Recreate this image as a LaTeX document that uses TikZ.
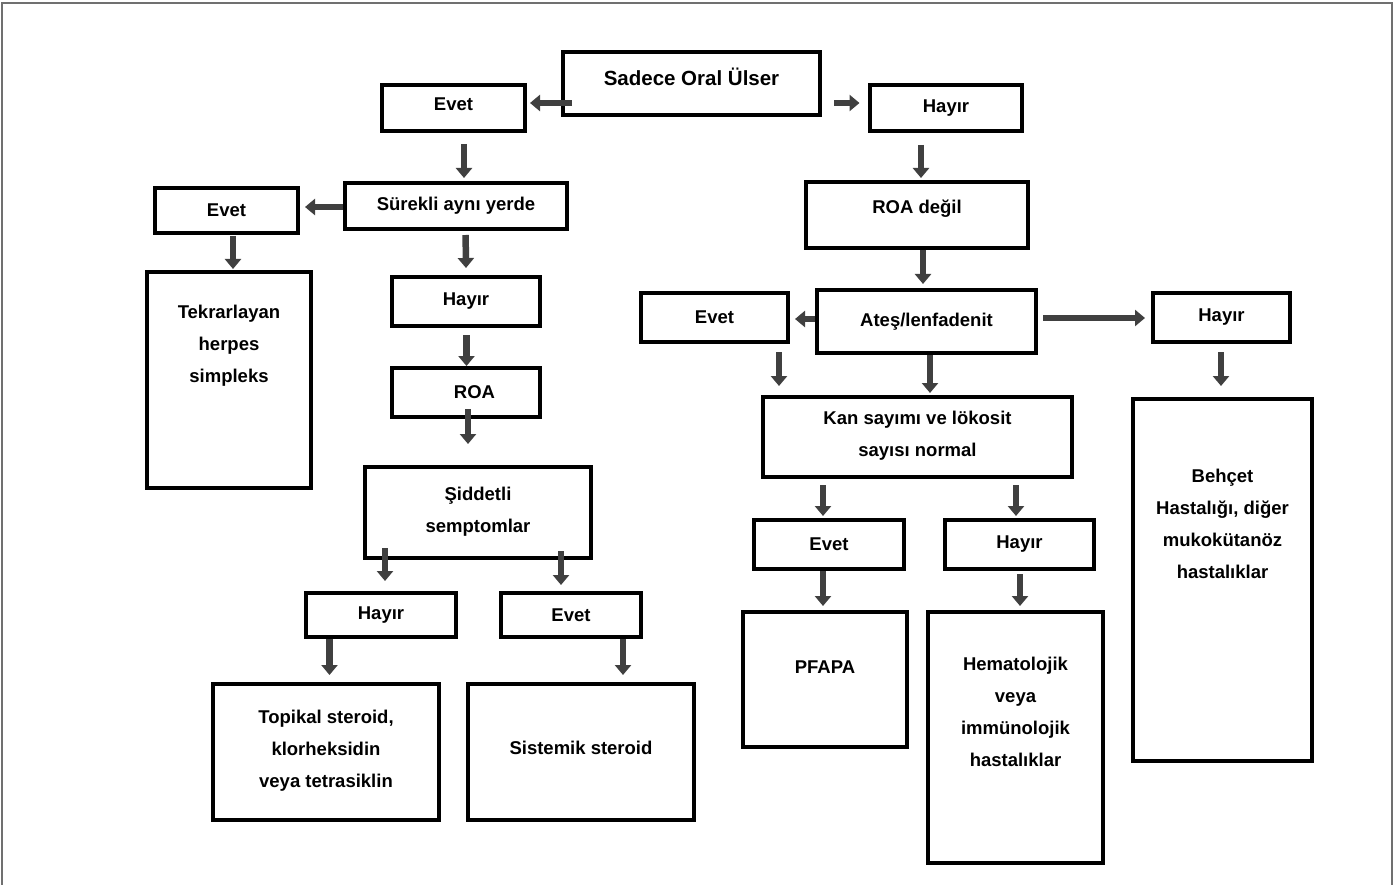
\documentclass[tikz,border=0pt]{standalone}
\usepackage{fontspec}
\setmainfont{Liberation Sans}
\usetikzlibrary{arrows.meta}
\definecolor{arrowgray}{HTML}{404040}
\definecolor{framegray}{HTML}{707070}

\begin{document}
\begin{tikzpicture}[x=1pt,y=-1pt]

		\tikzset{box/.style = {draw, line width=4pt, rectangle, align=center, inner sep=0pt,
				font=\fontsize{18.5}{32}\bfseries\selectfont}}
		\tikzset{sz/.style 2 args = {minimum width=#1pt, minimum height=#2pt}}
		\tikzset{arr/.style = {-{Triangle[width=16pt,length=10pt]}, line width=6.5pt, draw=arrowgray}}

		\useasboundingbox (0,0) rectangle (1394,885);
		\draw[framegray, line width=1.5pt] (2,885) -- (2,3) -- (1392,3) -- (1392,885);

		% boxes, left branch
		\node[box, sz={257}{63}, font=\fontsize{20.5}{32}\bfseries\selectfont] (oral) at (691.5,83.5) {Sadece Oral Ülser\\[-19pt]};
		\node[box, sz={143}{46}] (evetA) at (453.5,108) {Evet\\[-24pt]};
		\node[box, sz={222}{46}] (surekli) at (456,206) {Sürekli aynı yerde};
		\node[box, sz={143}{45}] (evetB) at (226.5,210.5) {Evet};
		\node[box, sz={164}{216}] (herpes) at (229,380) {Tekrarlayan\\herpes\\simpleks\\[41pt]};
		\node[box, sz={148}{49}] (hayirB) at (466,301.5) {Hayır};
		\node[box, sz={148}{49}] (roa) at (466,392.5) {\hspace*{17pt}ROA};
		\node[box, sz={226}{91}] (siddet) at (478,512.5) {Şiddetli\\semptomlar\\[-26pt]};
		\node[box, sz={150}{44}] (hayirC) at (381,615) {Hayır};
		\node[box, sz={140}{44}] (evetC) at (571,615) {Evet};
		\node[box, sz={226}{136}] (topikal) at (326,752) {Topikal steroid,\\klorheksidin\\veya tetrasiklin\\[-26pt]};
		\node[box, sz={226}{136}] (sistemik) at (581,752) {Sistemik steroid\\[-24pt]};

		% boxes, right branch
		\node[box, sz={152}{46}] (hayirA) at (946,108) {Hayır};
		\node[box, sz={222}{66}] (roadegil) at (917,215) {ROA değil\\[-16pt]};
		\node[box, sz={219}{63}] (ates) at (926.5,321.5) {Ateş/lenfadenit};
		\node[box, sz={147}{49}] (evetD) at (714.5,317.5) {Evet};
		\node[box, sz={137}{49}] (hayirD) at (1221.5,317.5) {Hayır};
		\node[box, sz={309}{80}] (kan) at (917.5,437) {Kan sayımı ve lökosit\\sayısı normal\\[-26pt]};
		\node[box, sz={179}{362}] (behcet) at (1222.5,580) {Behçet\\Hastalığı, diğer\\mukokütanöz\\hastalıklar\\[80pt]};
		\node[box, sz={150}{49}] (evetE) at (829,544.5) {Evet};
		\node[box, sz={149}{49}] (hayirE) at (1019.5,544.5) {Hayır};
		\node[box, sz={164}{135}] (pfapa) at (825,679.5) {PFAPA\\[-7pt]};
		\node[box, sz={175}{251}] (hemato) at (1015.5,737.5) {Hematolojik\\veya\\immünolojik\\hastalıklar\\[19pt]};

		%edges
		\draw[arr] ([shift={(11,19.5)}]oral.west) -- ([shift={(3,-5)}]evetA.east);
		\draw[arr] ([shift={(12,19.5)}]oral.east) -- ([shift={(-8.5,-5)}]hayirA.west);
		\draw[arr] ([shift={(10.5,11)}]evetA.south) -- ([shift={(8,-3)}]surekli.north);
		\draw[arr] ([shift={(0,1)}]surekli.west) -- ([shift={(5,-3.5)}]evetB.east);
		\draw[arr] ([shift={(6.5,1)}]evetB.south) -- ([shift={(4,-1)}]herpes.north);
		\draw[arr] ([shift={(9.6,4)}]surekli.south) -- ([shift={(0,-7)}]hayirB.north);
		\draw[arr] ([shift={(0.5,7)}]hayirB.south) -- ([shift={(0.5,0)}]roa.north);
		\draw[arr] ([shift={(2,-10)}]roa.south) -- ([shift={(-10,-21)}]siddet.north);
		\draw[arr] ([shift={(-93,-12)}]siddet.south) -- ([shift={(4,-10)}]hayirC.north);
		\draw[arr] ([shift={(83,-9)}]siddet.south) -- ([shift={(-10,-6)}]evetC.north);
		\draw[arr] ([shift={(-51.5,0)}]hayirC.south) -- ([shift={(3.5,-7)}]topikal.north);
		\draw[arr] ([shift={(52,0)}]evetC.south) -- ([shift={(42,-7)}]sistemik.north);

		\draw[arr] ([shift={(-25,12)}]hayirA.south) -- ([shift={(4,-2)}]roadegil.north);
		\draw[arr] ([shift={(6,0)}]roadegil.south) -- ([shift={(-3.5,-4)}]ates.north);
		\draw[arr] ([shift={(0,-2.5)}]ates.west) -- ([shift={(5,1.5)}]evetD.east);
		\draw[arr] ([shift={(5,-3.5)}]ates.east) -- ([shift={(-6,0.5)}]hayirD.west);
		\draw[arr] ([shift={(64.5,8)}]evetD.south) -- ([shift={(-138.5,-9)}]kan.north);
		\draw[arr] ([shift={(3.5,0)}]ates.south) -- ([shift={(12.5,-2)}]kan.north);
		\draw[arr] ([shift={(-0.5,8)}]hayirD.south) -- ([shift={(-1.5,-11)}]behcet.north);
		\draw[arr] ([shift={(-94.5,6)}]kan.south) -- ([shift={(-6,-2)}]evetE.north);
		\draw[arr] ([shift={(98.5,6)}]kan.south) -- ([shift={(-3.5,-2)}]hayirE.north);
		\draw[arr] ([shift={(-6,0)}]evetE.south) -- ([shift={(-2,-4)}]pfapa.north);
		\draw[arr] ([shift={(0.5,3)}]hayirE.south) -- ([shift={(4.5,-4)}]hemato.north);
\end{tikzpicture}
\end{document}
